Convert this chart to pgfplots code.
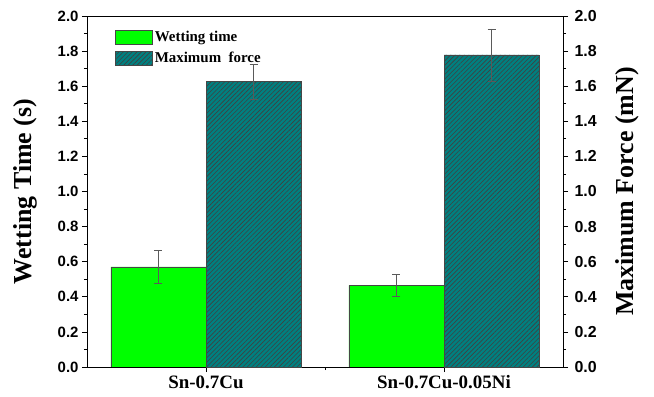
\documentclass[border=0pt]{standalone}
\usepackage{pgfplots}
\pgfplotsset{compat=1.18}
\usetikzlibrary{patterns.meta}
\usepackage{fontspec}
\setmainfont{Liberation Serif}
\newfontfamily\arial{Liberation Sans}
\definecolor{wgreen}{RGB}{0,255,0}
\definecolor{mteal}{RGB}{0,128,128}
\definecolor{edge}{RGB}{70,70,70}
\definecolor{errc}{RGB}{90,90,90}
\pgfplotsset{
  common/.style={
    width=476bp, height=351bp, scale only axis,
    xmin=-0.5, xmax=1.5, ymin=0, ymax=2.0,
    ytick={0,0.2,...,2.01}, minor y tick num=1,
    tick align=outside,
    major tick length=5bp, minor tick length=3bp,
    tick style={black, line width=0.8pt},
    axis line style={line width=0.8pt},
    /pgf/number format/assume math mode=true,
    /pgf/number format/.cd, fixed, fixed zerofill, precision=1, /pgfplots/.cd,
    yticklabel style={font=\arial\bfseries\fontsize{15}{15}\selectfont},
    ylabel style={font=\bfseries\fontsize{26}{26}\selectfont, anchor=center},
    ybar, bar width=0.4,
    error bars/y dir=both, error bars/y explicit,
    error bars/error bar style={errc, line width=0.8pt},
    error bars/error mark options={rotate=90, mark size=4bp, errc, line width=0.8pt},
  },
  hatch/.style={fill=mteal, draw=edge, line width=0.6pt,
    postaction={pattern={Lines[angle=45, distance=3.2bp, line width=0.6bp]}, pattern color=black!75}},
}
\begin{document}
\begin{tikzpicture}
\begin{axis}[common,
  axis y line*=left, xtick pos=bottom,
  xtick={0,1}, xticklabels={Sn-0.7Cu, Sn-0.7Cu-0.05Ni},
  minor xtick={0.5},
  xticklabel style={font=\bfseries\fontsize{19}{19}\selectfont},
  ylabel={Wetting Time (s)},
  ylabel style={at={([xshift=-62bp]axis description cs:0,0.5)}},
  legend style={draw=none, fill=none, at={([xshift=28bp,yshift=-13bp]axis description cs:0,1)}, anchor=north west,
    font=\bfseries\fontsize{15}{15}\selectfont, row sep=5bp, inner sep=0pt},
  legend cell align=left,
  legend image code/.code={\draw[#1] (0bp,-7bp) rectangle (37bp,7bp);},
]
\addplot[bar shift=-0.2, fill=wgreen, draw=edge, line width=0.6pt]
  coordinates {(0,0.57) +- (0,0.095) (1,0.465) +- (0,0.06)};
\addlegendentry{Wetting time}
\addlegendimage{hatch}
\addlegendentry{Maximum\ \ force}
\draw[line width=0.8pt] (rel axis cs:0,1) -- (rel axis cs:1,1);
\coordinate (ll) at (rel axis cs:0,0);
\coordinate (ur) at (rel axis cs:1,1);
\end{axis}
\begin{axis}[common,
  axis y line*=right, axis x line=none,
  yticklabel style={font=\arial\bfseries\fontsize{16}{16}\selectfont, xshift=3bp},
  ylabel={Maximum Force (mN)},
  ylabel style={at={([xshift=64bp]axis description cs:1,0.5)}},
]
\addplot[bar shift=0.2, hatch]
  coordinates {(0,1.626) +- (0,0.1) (1,1.778) +- (0,0.148)};
\end{axis}
\pgfresetboundingbox
\path ([shift={(-87bp,-30bp)}]ll) rectangle ([shift={(91bp,16bp)}]ur);
\end{tikzpicture}
\end{document}
